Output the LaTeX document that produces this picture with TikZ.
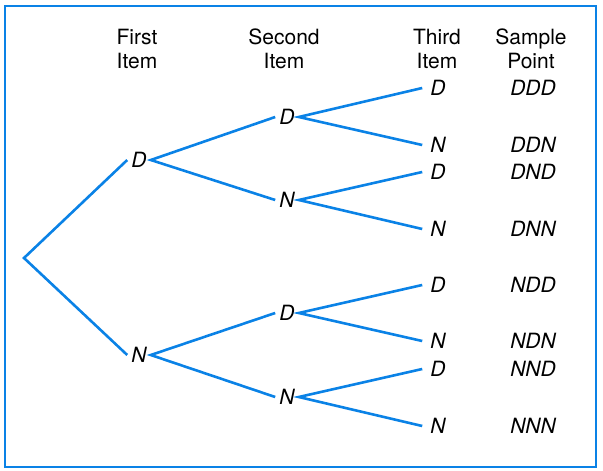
\documentclass[tikz,border=0pt]{standalone}
\usepackage{fontspec}
\setmainfont{TeX Gyre Heros}
\definecolor{treeblue}{RGB}{10,130,230}

\begin{document}
\begin{tikzpicture}[x=1pt, y=-1pt,
  branch/.style={draw=treeblue, line width=2.6pt},
  choice/.style={inner sep=4pt, font=\fontsize{21}{24}\selectfont\itshape},
  leaf/.style={choice, inner xsep=8pt},
  header/.style={align=center, font=\fontsize{21}{24}\selectfont}]
  \useasboundingbox (0,0) rectangle (603,471);
%frame
  \draw[treeblue, line width=2.6pt] (5,6) rectangle (596,467);

%headers
  \node[header] (h1) at (137,49) {First\\Item};
  \node[header] (h2) at (284,49) {Second\\Item};
  \node[header] (h3) at (437,49) {Third\\Item};
  \node[header] (h4) at (531,49) {Sample\\Point};

%first item
  \coordinate (R) at (24,258);
  \node[choice] (D) at (139,160) {D};
  \node[choice] (N) at (139,355) {N};

%second item
  \node[choice] (DD) at (287,117) {D};
  \node[choice] (DN) at (287,200) {N};
  \node[choice] (ND) at (287,313) {D};
  \node[choice] (NN) at (287,397) {N};

%third item
  \node[leaf] (DDD) at (438,88) {D};
  \node[leaf] (DDN) at (438,145) {N};
  \node[leaf] (DND) at (438,172) {D};
  \node[leaf] (DNN) at (438,229) {N};
  \node[leaf] (NDD) at (438,285) {D};
  \node[leaf] (NDN) at (438,341) {N};
  \node[leaf] (NND) at (438,369) {D};
  \node[leaf] (NNN) at (438,426) {N};

%sample points
  \node[choice] (s1) at (533,88) {DDD};
  \node[choice] (s2) at (533,145) {DDN};
  \node[choice] (s3) at (533,172) {DND};
  \node[choice] (s4) at (533,229) {DNN};
  \node[choice] (s5) at (533,285) {NDD};
  \node[choice] (s6) at (533,341) {NDN};
  \node[choice] (s7) at (533,369) {NND};
  \node[choice] (s8) at (533,426) {NNN};

  \draw[branch] (D.west) -- (R) -- (N.west);
  \draw[branch] (DD.west) -- (D.east) -- (DN.west);
  \draw[branch] (ND.west) -- (N.east) -- (NN.west);
  \draw[branch] (DDD.west) -- (DD.east) -- (DDN.west);
  \draw[branch] (DND.west) -- (DN.east) -- (DNN.west);
  \draw[branch] (NDD.west) -- (ND.east) -- (NDN.west);
  \draw[branch] (NND.west) -- (NN.east) -- (NNN.west);
\end{tikzpicture}
\end{document}
